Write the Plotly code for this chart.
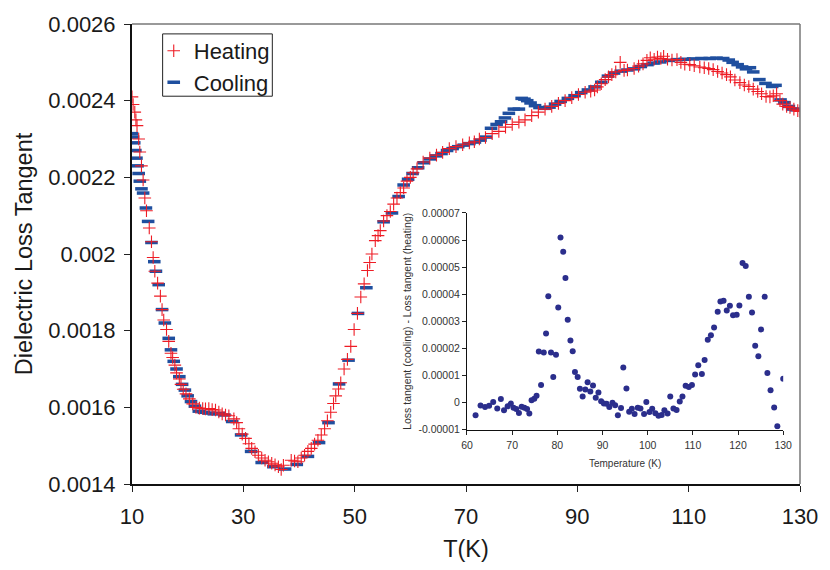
import plotly.graph_objects as go

# ---------------- data ----------------
heat_T = [10.0, 10.2, 10.5, 10.7, 10.9, 11.2, 11.4, 11.7, 12.0, 12.3, 12.6, 13.1, 13.5, 13.8, 14.1,
          14.6, 15.1, 15.4, 15.7, 16.2, 16.6, 17.0, 17.3, 17.7, 18.0, 18.5, 18.8, 19.2, 19.7, 20.3,
          20.9, 21.5, 22.1, 22.7, 23.2, 23.8, 24.4, 25.0, 25.6, 26.2, 26.8, 27.4, 28.3, 28.8, 29.2,
          29.8, 30.4, 31.0, 31.5, 32.1, 32.7, 33.3, 33.9, 34.5, 35.1, 35.7, 36.3, 36.8, 37.2, 38.6,
          39.2, 39.8, 40.4, 41.0, 41.6, 42.2, 42.8, 43.4, 44.0, 44.6, 45.1, 45.7, 46.2, 46.6, 47.1,
          47.5, 48.1, 48.7, 49.3, 49.9, 50.5, 51.1, 51.7, 52.3, 52.7, 53.1, 53.7, 54.2, 54.6, 55.2,
          55.8, 56.4, 57.0, 57.6, 58.2, 58.8, 59.4, 60.0, 60.5, 61.2, 62.3, 63.5, 64.7, 65.8, 67.0,
          68.2, 69.4, 70.6, 71.5, 72.4, 73.5, 74.7, 75.9, 77.1, 78.3, 79.5, 80.6, 81.8, 83.0, 84.2,
          85.4, 86.6, 87.8, 89.0, 90.2, 91.4, 92.4, 93.1, 93.6, 94.3, 95.0, 95.6, 96.2, 96.9, 97.7,
          98.4, 99.0, 100.2, 101.0, 101.8, 102.5, 103.1, 103.8, 104.4, 105.0, 105.5, 106.2, 107.0, 107.9,
          108.6, 109.3, 110.2, 111.0, 112.0, 112.8, 113.6, 114.4, 115.2, 116.0, 116.8, 117.5, 118.3, 119.2,
          120.0, 120.8, 121.6, 122.4, 123.1, 123.9, 124.6, 125.2, 125.8, 126.4, 126.9, 127.6, 128.2, 128.9,
          129.6, 130.0]
heat_V = [0.00241, 0.00239, 0.00237, 0.00235, 0.002335, 0.0023, 0.002266, 0.00223, 0.002193, 0.002146,
          0.002113, 0.002068, 0.002032, 0.001991, 0.001955, 0.001924, 0.00189, 0.001855, 0.001828, 0.001803,
          0.001772, 0.001741, 0.00173, 0.00171, 0.00169, 0.001674, 0.00166, 0.001647, 0.001635, 0.001622,
          0.001609, 0.0016, 0.001598, 0.001597, 0.001596, 0.001597, 0.001594, 0.001593, 0.001588, 0.001583,
          0.00158, 0.001578, 0.00157, 0.00156, 0.001544, 0.00153, 0.001519, 0.001505, 0.001493, 0.001484,
          0.001475, 0.001468, 0.001462, 0.001458, 0.001454, 0.00145, 0.001445, 0.001438, 0.001449, 0.001462,
          0.00146, 0.001458, 0.001468, 0.001475, 0.001485, 0.001493, 0.001504, 0.001514, 0.001528, 0.001544,
          0.001565, 0.001587, 0.00161, 0.00163, 0.001648, 0.001664, 0.0017, 0.001725, 0.001759, 0.001803,
          0.001845, 0.001888, 0.001922, 0.001957, 0.001978, 0.0020, 0.002035, 0.002048, 0.002061, 0.002086,
          0.0021, 0.002111, 0.00213, 0.002146, 0.00216, 0.002172, 0.00219, 0.0022, 0.002212, 0.002222,
          0.00224, 0.00225, 0.002258, 0.002265, 0.002275, 0.00228, 0.002285, 0.00229, 0.002293, 0.0023,
          0.002304, 0.002314, 0.00232, 0.002331, 0.002338, 0.002344, 0.00235, 0.002361, 0.00237, 0.002378,
          0.002385, 0.002393, 0.0024, 0.002408, 0.002416, 0.002422, 0.002425, 0.002428, 0.002436, 0.002444,
          0.002455, 0.002462, 0.002468, 0.002475, 0.0025, 0.002479, 0.00248, 0.002484, 0.00249, 0.002496,
          0.002505, 0.002512, 0.002508, 0.002514, 0.00251, 0.002516, 0.002508, 0.002506, 0.002507, 0.0025,
          0.002495, 0.002494, 0.002491, 0.002488, 0.002486, 0.002484, 0.002481, 0.002476, 0.002472, 0.002468,
          0.002462, 0.002454, 0.002447, 0.002441, 0.002437, 0.00243, 0.002424, 0.002418, 0.002411, 0.00241,
          0.002413, 0.002418, 0.0024, 0.002391, 0.002385, 0.002382, 0.002378, 0.002374, 0.002372]

cool_T = [10.0, 10.2, 10.4, 10.6, 10.8, 11.0, 11.2, 11.4, 11.7, 12.0, 12.5, 12.9, 13.5, 14.0, 14.3,
          14.8, 15.4, 15.9, 16.6, 17.0, 17.5, 18.0, 18.5, 19.0, 19.5, 20.0, 20.6, 21.3, 22.0, 22.9,
          23.8, 24.7, 25.6, 26.6, 28.0, 29.6, 31.4, 33.3, 35.4, 37.5, 39.6, 41.6, 43.6, 45.3, 47.2,
          48.9, 50.6, 52.1, 55.2, 56.7, 57.9, 58.8, 59.6, 60.4, 61.4, 62.4, 63.5, 64.6, 65.6, 66.6,
          67.6, 68.6, 69.6, 70.6, 71.6, 72.6, 73.6, 74.5, 75.5, 76.3, 77.0, 77.7, 78.6, 79.5, 80.0,
          80.5, 81.0, 81.6, 82.4, 83.2, 84.2, 85.0, 86.0, 87.0, 88.3, 89.5, 90.7, 91.9, 93.1, 94.3,
          95.5, 96.6, 97.8, 99.0, 100.2, 101.4, 102.6, 103.7, 104.9, 106.4, 107.9, 109.3, 110.8, 112.3,
          113.8, 115.0, 116.2, 117.2, 117.9, 118.8, 119.6, 120.3, 121.0, 121.6, 122.7, 123.8, 125.0, 125.6,
          126.5, 127.2, 128.0, 128.6, 129.3, 130.0]
cool_V = [0.002314, 0.002305, 0.00229, 0.00227, 0.00225, 0.00223, 0.00221, 0.00219, 0.00217, 0.002159,
          0.00212, 0.002085, 0.00203, 0.00198, 0.001955, 0.00192, 0.001855, 0.00182, 0.00178, 0.00175,
          0.00172, 0.0017, 0.00168, 0.00166, 0.001645, 0.00163, 0.001615, 0.001603, 0.00159, 0.001587,
          0.001585, 0.001583, 0.001584, 0.00158, 0.001563, 0.001528, 0.001485, 0.001456, 0.001445, 0.001439,
          0.001451, 0.001472, 0.001508, 0.00156, 0.001661, 0.001723, 0.001845, 0.001912, 0.002084, 0.002107,
          0.00215, 0.00218, 0.002195, 0.00221, 0.002225, 0.002238, 0.002248, 0.002256, 0.002262, 0.00227,
          0.002275, 0.00228, 0.002284, 0.002288, 0.002292, 0.002297, 0.002305, 0.002328, 0.002338, 0.002345,
          0.002355, 0.002367, 0.002378, 0.002378, 0.002406, 0.002404, 0.0024, 0.002394, 0.002387, 0.002382,
          0.00238, 0.002383, 0.002391, 0.002398, 0.002406, 0.002413, 0.002421, 0.002428, 0.002436, 0.002448,
          0.002464, 0.002472, 0.002477, 0.00248, 0.002483, 0.002489, 0.002494, 0.002498, 0.002501, 0.002505,
          0.002507, 0.002508, 0.002509, 0.00251, 0.00251, 0.002511, 0.00251, 0.002506, 0.0025, 0.002494,
          0.002488, 0.002483, 0.002486, 0.002475, 0.002455, 0.002445, 0.002437, 0.00244, 0.002402, 0.002395,
          0.002385, 0.002378, 0.002376, 0.002378]

diff_T = [61.9, 63.0, 64.0, 64.9, 65.8, 66.7, 67.5, 68.2, 69.0, 69.7, 70.3, 70.9, 71.5, 72.1, 72.7,
          73.3, 73.8, 74.3, 74.9, 75.4, 75.9, 76.4, 77.0, 77.5, 78.0, 78.6, 79.1, 79.7, 80.2, 80.7,
          81.3, 81.8, 82.3, 82.9, 83.4, 83.9, 84.5, 85.0, 85.6, 86.2, 86.7, 87.3, 87.9, 88.5, 89.1,
          89.7, 90.3, 90.9, 91.5, 92.2, 92.8, 93.4, 94.1, 94.6, 95.3, 95.9, 96.5, 97.1, 97.8, 98.4,
          99.2, 99.7, 100.4, 101.0, 101.7, 102.4, 103.1, 103.7, 104.4, 105.0, 105.7, 106.4, 107.1, 107.7,
          108.4, 109.1, 109.8, 110.5, 111.2, 112.0, 112.6, 113.3, 114.0, 114.7, 115.5, 116.1, 116.8, 117.5,
          118.2, 118.9, 119.7, 120.3, 121.0, 121.7, 122.4, 123.1, 123.8, 124.5, 125.1, 125.9, 126.5, 127.2,
          128.0, 128.7, 130.0]
diff_V = [-0.47, -0.11, -0.17, -0.12, 0.02, -0.22, 0.13, -0.29, -0.14, -0.04, -0.19, -0.24, -0.39, -0.16, -0.19,
          -0.24, -0.41, 0.08, 0.14, 0.25, 1.88, 0.65, 1.85, 2.55, 3.92, 1.85, 0.94, 1.76, 3.51, 6.09,
          5.57, 4.6, 3.06, 2.29, 1.89, 1.13, 0.94, 0.51, 0.22, 0.48, 0.75, 0.41, 0.63, 0.18, 0.37,
          0.05, -0.04, -0.05, -0.17, -0.01, -0.1, -0.47, -0.2, 1.29, 0.52, -0.34, -0.23, -0.42, -0.19, -0.22,
          -0.42, 0.02, -0.35, -0.23, -0.4, -0.49, -0.46, -0.29, -0.41, 0.22, -0.22, -0.28, 0.04, 0.22,
          0.62, 0.57, 0.65, 1.03, 1.38, 1.05, 1.57, 2.32, 2.48, 2.77, 3.35, 3.73, 3.76, 3.40,
          3.57, 3.22, 3.24, 3.58, 5.15, 5.04, 3.91, 3.32, 2.1, 1.71, 2.7, 3.91, 1.09, 0.45,
          -0.18, -0.88, 0.88]
diff_V = [v * 1e-5 for v in diff_V]

main_xticks = [10, 30, 50, 70, 90, 110, 130]
main_yticks = [0.0014, 0.0016, 0.0018, 0.002, 0.0022, 0.0024, 0.0026]
main_ylabels = ["0.0014", "0.0016", "0.0018", "0.002", "0.0022", "0.0024", "0.0026"]
inset_xticks = [60, 70, 80, 90, 100, 110, 120, 130]
inset_yticks = [-0.00001, 0, 0.00001, 0.00002, 0.00003, 0.00004, 0.00005, 0.00006, 0.00007]
inset_ylabels = ["-0.00001", "0", "0.00001", "0.00002", "0.00003", "0.00004", "0.00005", "0.00006", "0.00007"]

FONT = "Liberation Sans, Arial, sans-serif"
RED = "#ee1c25"
BLUE = "#1f4f9f"
NAVY = "#2b2e8c"

# layout geometry (pixels)
W, H = 830, 570
L, R, T, B = 132, 808, 24, 489


def px_x(p):
    return (p - L) / (R - L)


def px_y(p):
    return (B - p) / (B - T)


fig = go.Figure()
fig.add_trace(go.Scatter(x=cool_T, y=cool_V, mode="markers", name="Cooling",
                         marker=dict(symbol="line-ew", size=9, line=dict(color=BLUE, width=3.5), color=BLUE),
                         xaxis="x", yaxis="y"))
fig.add_trace(go.Scatter(x=heat_T, y=heat_V, mode="markers", name="Heating",
                         marker=dict(symbol="cross-thin", size=9, line=dict(color=RED, width=1.1), color=RED),
                         xaxis="x", yaxis="y"))
fig.add_trace(go.Scatter(x=diff_T, y=diff_V, mode="markers", showlegend=False,
                         marker=dict(symbol="circle", size=6, color=NAVY),
                         xaxis="x2", yaxis="y2"))

fig.update_layout(
    width=W, height=H,
    margin=dict(l=L, r=W - R, t=T, b=H - B),
    paper_bgcolor="white", plot_bgcolor="white",
    font=dict(family=FONT, color="#1a1a1a"),
    showlegend=True,
    legend=dict(x=px_x(154), y=px_y(30), xanchor="left", yanchor="top",
                bgcolor="rgba(0,0,0,0)", borderwidth=0,
                font=dict(size=22, family=FONT), traceorder="reversed",
                itemwidth=30, tracegroupgap=0),
    xaxis=dict(range=[10, 130], tickvals=main_xticks, ticks="outside", ticklen=6, tickcolor="#222",
               showline=True, linecolor="#111", linewidth=2, showgrid=False, zeroline=False,
               tickfont=dict(size=22), ticklabelstandoff=6,
               title=dict(text="T(K)", font=dict(size=23.5), standoff=12)),
    yaxis=dict(range=[0.0014, 0.0026], tickvals=main_yticks, ticktext=main_ylabels, ticks="outside",
               ticklen=6, tickcolor="#222", showline=True, linecolor="#111", linewidth=2,
               showgrid=False, zeroline=False, tickfont=dict(size=22), ticklabelstandoff=4,
               title=dict(text="Dielectric Loss Tangent", font=dict(size=23.5), standoff=9)),
    xaxis2=dict(domain=[px_x(471), px_x(791)], anchor="y2", range=[60, 130], tickvals=inset_xticks,
                ticks="outside", ticklen=4, tickcolor="#222", showline=True, linecolor="#111",
                linewidth=1, showgrid=False, zeroline=False, tickfont=dict(size=10.5, color="#333"),
                ticklabelstandoff=2,
                title=dict(text="Temperature (K)", font=dict(size=10, color="#333"), standoff=9)),
    yaxis2=dict(domain=[px_y(434), px_y(215)], anchor="x2", range=[-0.00001, 0.00007], tickvals=inset_yticks,
                ticktext=inset_ylabels, ticks="outside", ticklen=4, tickcolor="#222", showline=True,
                linecolor="#111", linewidth=1, showgrid=False, zeroline=False,
                tickfont=dict(size=10.5, color="#333"),
                title=dict(text="Loss tangent (cooling) - Loss tangent (heating)",
                           font=dict(size=10.5, color="#333"), standoff=4)),
    shapes=[
        dict(type="line", xref="paper", yref="paper", x0=0, x1=1, y0=1, y1=1,
             line=dict(color="#777", width=1.5)),
        dict(type="line", xref="paper", yref="paper", x0=1, x1=1, y0=0, y1=1,
             line=dict(color="#777", width=1.5)),
        dict(type="rect", xref="paper", yref="paper", layer="below",
             x0=px_x(163), x1=px_x(274), y0=px_y(97), y1=px_y(34),
             line=dict(color="#222", width=1), fillcolor="white"),
    ],
)

fig.write_html("out.html")
